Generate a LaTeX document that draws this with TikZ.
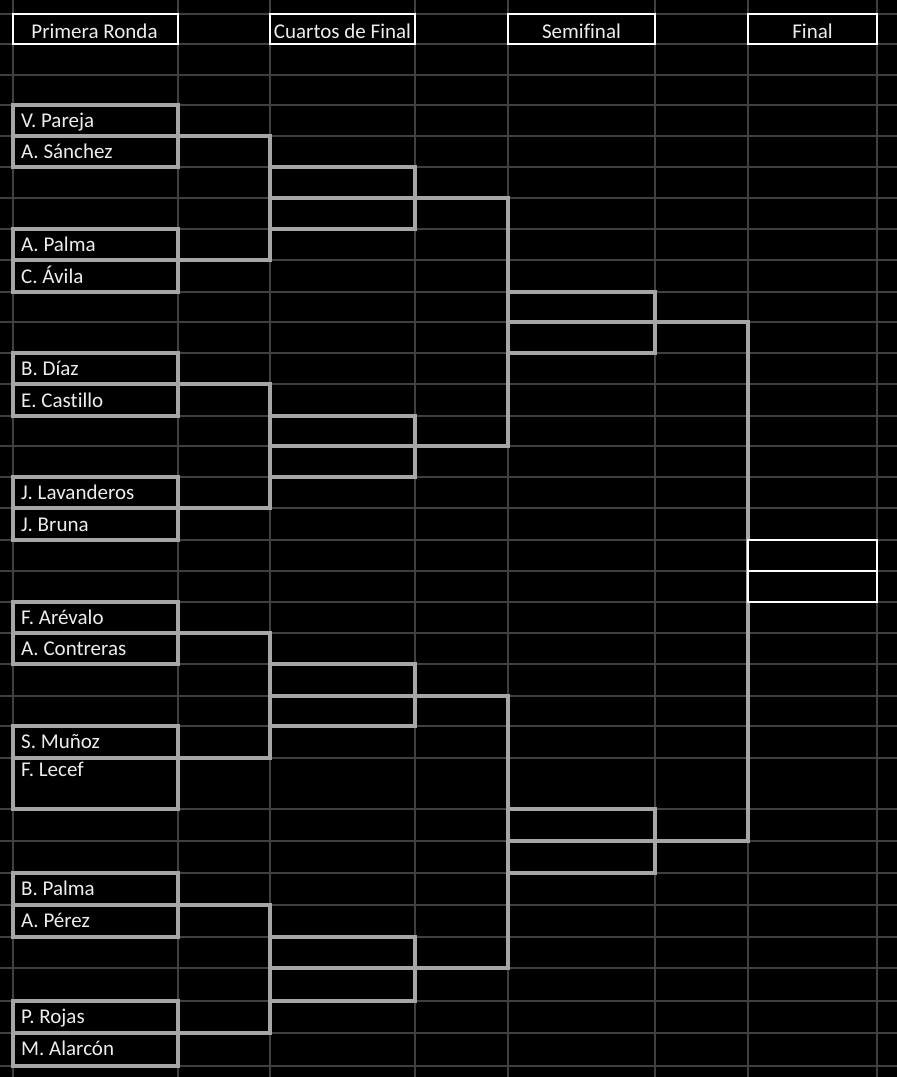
\documentclass[tikz,border=0pt]{standalone}
\usepackage{fontspec}
\setmainfont{Carlito}[RawFeature={-liga}]
\usetikzlibrary{calc}
\definecolor{gridc}{HTML}{404040}
\definecolor{boxc}{HTML}{A6A6A6}
\definecolor{txtc}{HTML}{EDEDED}
\newcommand\mkcell[6]{\node[#6, minimum width={#4-#2}, minimum height={#5-#3}] (#1) at ({(#2+#4)/2},{(#3+#5)/2}) {};}
\begin{document}
\begin{tikzpicture}[x=1pt,y=-1pt,
  gridline/.style={draw=gridc, line width=1.5pt},
  cellbox/.style={rectangle, draw=boxc, line width=4pt, inner sep=0pt, outer sep=0pt},
  headbox/.style={rectangle, draw=white, line width=2pt, inner sep=0pt, outer sep=0pt},
  finalbox/.style={rectangle, draw=white, fill=black, line width=2pt, inner sep=0pt, outer sep=0pt},
  link/.style={draw=boxc, line width=3.5pt, line join=miter},
  nametext/.style={text=txtc, font=\fontsize{21}{25}\selectfont, inner sep=0pt, anchor=base west},
  headtext/.style={text=txtc, font=\fontsize{21}{25}\selectfont, inner sep=0pt, anchor=base}]
\fill[black] (0,0) rectangle (897,1077);
\useasboundingbox (0,0) rectangle (897,1077);
% spreadsheet grid
\foreach \x in {13,178,270,415,508,655,748,877} \draw[gridline] (\x,0) -- (\x,1077);
\foreach \y in {14,44,75,105,136,167,198,229,260,292,322,353,384,416,446,477,508,540,571,602,633,664,696,726,758,809,841,873,905,937,968,1001,1033,1066}
  \draw[gridline] (0,\y) -- (897,\y);
% headers
\mkcell{h1}{13}{14}{178}{44}{headbox}
\mkcell{h2}{270}{14}{415}{44}{headbox}
\mkcell{h3}{508}{14}{655}{44}{headbox}
\mkcell{h4}{748}{14}{877}{44}{headbox}
\node[headtext] (ht1) at (94.5,38) {Primera Ronda};
\node[headtext] (ht2) at (342.5,38) {Cuartos de Final};
\node[headtext] (ht3) at (581.5,38) {Semifinal};
\node[headtext] (ht4) at (812.5,38) {Final};
% first round cells
\mkcell{p1}{13}{105}{178}{136}{cellbox}
\mkcell{p2}{13}{136}{178}{167}{cellbox}
\mkcell{p3}{13}{229}{178}{260}{cellbox}
\mkcell{p4}{13}{260}{178}{292}{cellbox}
\mkcell{p5}{13}{353}{178}{384}{cellbox}
\mkcell{p6}{13}{384}{178}{416}{cellbox}
\mkcell{p7}{13}{477}{178}{508}{cellbox}
\mkcell{p8}{13}{508}{178}{540}{cellbox}
\mkcell{p9}{13}{602}{178}{633}{cellbox}
\mkcell{p10}{13}{633}{178}{664}{cellbox}
\mkcell{p11}{13}{726}{178}{758}{cellbox}
\mkcell{p12}{13}{758}{178}{809}{cellbox}
\mkcell{p13}{13}{873}{178}{905}{cellbox}
\mkcell{p14}{13}{905}{178}{937}{cellbox}
\mkcell{p15}{13}{1001}{178}{1033}{cellbox}
\mkcell{p16}{13}{1033}{178}{1066}{cellbox}
% quarter final cells
\mkcell{q1a}{270}{167}{415}{198}{cellbox}
\mkcell{q1b}{270}{198}{415}{229}{cellbox}
\mkcell{q2a}{270}{416}{415}{446}{cellbox}
\mkcell{q2b}{270}{446}{415}{477}{cellbox}
\mkcell{q3a}{270}{664}{415}{696}{cellbox}
\mkcell{q3b}{270}{696}{415}{726}{cellbox}
\mkcell{q4a}{270}{937}{415}{968}{cellbox}
\mkcell{q4b}{270}{968}{415}{1001}{cellbox}
% semifinal cells
\mkcell{s1a}{508}{292}{655}{322}{cellbox}
\mkcell{s1b}{508}{322}{655}{353}{cellbox}
\mkcell{s2a}{508}{809}{655}{841}{cellbox}
\mkcell{s2b}{508}{841}{655}{873}{cellbox}
% connectors
\draw[link] (p1.south east) -- (p1.south east -| q1a.west) -- (p3.south east -| q1a.west) -- (p3.south east);
\draw[link] (p5.south east) -- (p5.south east -| q2a.west) -- (p7.south east -| q2a.west) -- (p7.south east);
\draw[link] (p9.south east) -- (p9.south east -| q3a.west) -- (p11.south east -| q3a.west) -- (p11.south east);
\draw[link] (p13.south east) -- (p13.south east -| q4a.west) -- (p15.south east -| q4a.west) -- (p15.south east);
\draw[link] (q1a.south east) -- (q1a.south east -| s1a.west) -- (q2a.south east -| s1a.west) -- (q2a.south east);
\draw[link] (q3a.south east) -- (q3a.south east -| s2a.west) -- (q4a.south east -| s2a.west) -- (q4a.south east);
\coordinate (fx) at (748,0);
\draw[link] (s1a.south east) -- (s1a.south east -| fx) -- (s2a.south east -| fx) -- (s2a.south east);
% final cells
\mkcell{f1}{748}{540}{877}{571}{finalbox}
\mkcell{f2}{748}{571}{877}{602}{finalbox}
% names
\node[nametext] (n1) at (21,127.5) {V. Pareja};
\node[nametext] (n2) at (21,158) {A. Sánchez};
\node[nametext] (n3) at (21,251) {A. Palma};
\node[nametext] (n4) at (21,283) {C. Ávila};
\node[nametext] (n5) at (21,375) {B. Díaz};
\node[nametext] (n6) at (21,407) {E. Castillo};
\node[nametext] (n7) at (21,499) {J. Lavanderos};
\node[nametext] (n8) at (21,531) {J. Bruna};
\node[nametext] (n9) at (21,624) {F. Arévalo};
\node[nametext] (n10) at (21,655.5) {A. Contreras};
\node[nametext] (n11) at (21,748.5) {S. Muñoz};
\node[nametext] (n12) at (21,776.5) {F. Lecef};
\node[nametext] (n13) at (21,895.5) {B. Palma};
\node[nametext] (n14) at (21,927.5) {A. Pérez};
\node[nametext] (n15) at (21,1023.5) {P. Rojas};
\node[nametext] (n16) at (21,1055.5) {M. Alarcón};
\end{tikzpicture}
\end{document}
